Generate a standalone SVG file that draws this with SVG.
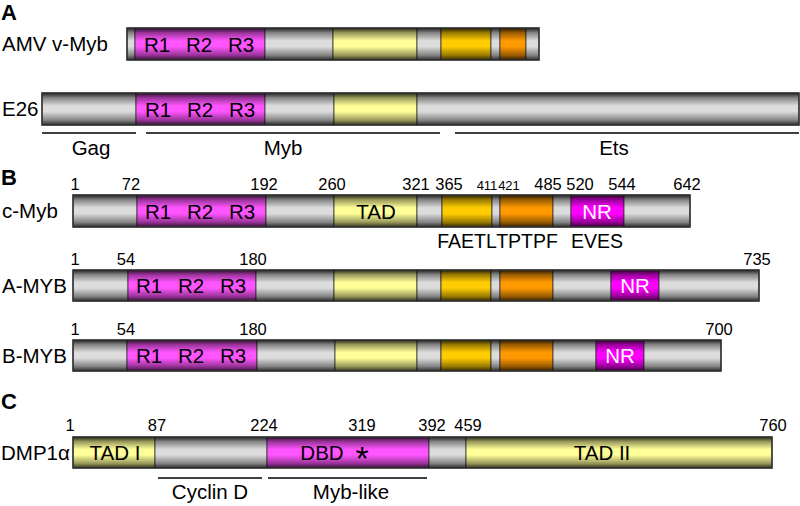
<svg xmlns="http://www.w3.org/2000/svg" width="800" height="506" viewBox="0 0 800 506">
<defs>
<linearGradient id="shade" x1="0" y1="0" x2="0" y2="1">
<stop offset="0" stop-color="#000" stop-opacity="0.85"/>
<stop offset="0.15" stop-color="#000" stop-opacity="0.4"/>
<stop offset="0.4" stop-color="#000" stop-opacity="0"/>
<stop offset="0.58" stop-color="#000" stop-opacity="0"/>
<stop offset="0.85" stop-color="#000" stop-opacity="0.4"/>
<stop offset="1" stop-color="#000" stop-opacity="0.8"/>
</linearGradient>
<style>
text{font-family:"Liberation Sans",Arial,sans-serif;fill:#000}
.sec{font-size:22px;font-weight:bold}
.lbl{font-size:20.5px}
.dom{font-size:20.5px;text-anchor:middle}
.nr{font-size:20.5px;text-anchor:middle;fill:#fff}
.num{font-size:16.5px;text-anchor:middle}
.sn{font-size:13px;text-anchor:middle}
.mot{font-size:19.5px;text-anchor:middle}
.g{fill:#dcdcdc}
.m{fill:#ff55ff}
.n{fill:#ff00ff}
.y{fill:#ffff99}
.au{fill:#ffcc00}
.o{fill:#ff9900}
.seg rect{stroke:#333;stroke-width:0.8}
.sh{fill:url(#shade)}
.out{fill:none;stroke:#333;stroke-width:1.5}
.ln{stroke:#000;stroke-width:1.5;fill:none}
</style>
</defs>
<rect width="800" height="506" fill="#fff"/>

<text class="sec" x="1" y="20">A</text>
<text class="sec" x="1" y="185">B</text>
<text class="sec" x="1" y="409">C</text>

<g id="amv-v-myb">
<text class="lbl" x="2" y="51">AMV v-Myb</text>
<g class="seg">
<rect class="g" x="127" y="28" width="8" height="32"/>
<rect class="m" x="135" y="28" width="130" height="32"/>
<rect class="g" x="265" y="28" width="68" height="32"/>
<rect class="y" x="333" y="28" width="84" height="32"/>
<rect class="g" x="417" y="28" width="24" height="32"/>
<rect class="au" x="441" y="28" width="50" height="32"/>
<rect class="g" x="491" y="28" width="9" height="32"/>
<rect class="o" x="500" y="28" width="26" height="32"/>
<rect class="g" x="526" y="28" width="13" height="32"/>
</g>
<rect class="sh" x="127" y="28" width="412" height="32"/>
<rect class="out" x="127" y="28" width="412" height="32"/>
<text class="dom" x="157" y="52">R1</text>
<text class="dom" x="199" y="52">R2</text>
<text class="dom" x="241" y="52">R3</text>
</g>

<g id="e26">
<text class="lbl" x="2" y="116">E26</text>
<g class="seg">
<rect class="g" x="42" y="93" width="94" height="32"/>
<rect class="m" x="136" y="93" width="129" height="32"/>
<rect class="g" x="265" y="93" width="69" height="32"/>
<rect class="y" x="334" y="93" width="83" height="32"/>
<rect class="g" x="417" y="93" width="382" height="32"/>
</g>
<rect class="sh" x="42" y="93" width="757" height="32"/>
<rect class="out" x="42" y="93" width="757" height="32"/>
<text class="dom" x="158" y="117">R1</text>
<text class="dom" x="200" y="117">R2</text>
<text class="dom" x="242" y="117">R3</text>
</g>

<g id="c-myb">
<text class="lbl" x="2" y="218">c-Myb</text>
<g class="seg">
<rect class="g" x="73" y="195" width="64" height="32"/>
<rect class="m" x="137" y="195" width="129" height="32"/>
<rect class="g" x="266" y="195" width="68" height="32"/>
<rect class="y" x="334" y="195" width="83" height="32"/>
<rect class="g" x="417" y="195" width="25" height="32"/>
<rect class="au" x="442" y="195" width="50" height="32"/>
<rect class="g" x="492" y="195" width="8" height="32"/>
<rect class="o" x="500" y="195" width="53" height="32"/>
<rect class="g" x="553" y="195" width="18" height="32"/>
<rect class="n" x="571" y="195" width="53" height="32"/>
<rect class="g" x="624" y="195" width="66" height="32"/>
</g>
<rect class="sh" x="73" y="195" width="617" height="32"/>
<rect class="out" x="73" y="195" width="617" height="32"/>
<text class="dom" x="158" y="219">R1</text>
<text class="dom" x="200" y="219">R2</text>
<text class="dom" x="242" y="219">R3</text>
<text class="dom" x="376" y="219">TAD</text>
<text class="nr" x="597" y="219">NR</text>
<text class="num" x="75" y="190">1</text>
<text class="num" x="131" y="190">72</text>
<text class="num" x="264" y="190">192</text>
<text class="num" x="332" y="190">260</text>
<text class="num" x="416" y="190">321</text>
<text class="num" x="449" y="190">365</text>
<text class="sn" x="487" y="190">411</text>
<text class="sn" x="509" y="190">421</text>
<text class="num" x="548" y="190">485</text>
<text class="num" x="580" y="190">520</text>
<text class="num" x="622" y="190">544</text>
<text class="num" x="687" y="190">642</text>
<text class="mot" x="467" y="248">FAETL</text>
<text class="mot" x="527" y="248">TPTPF</text>
<text class="mot" x="597" y="248">EVES</text>
</g>

<g id="a-myb">
<text class="lbl" x="2" y="293">A-MYB</text>
<g class="seg">
<rect class="g" x="73" y="270" width="55" height="31"/>
<rect class="m" x="128" y="270" width="128" height="31"/>
<rect class="g" x="256" y="270" width="78" height="31"/>
<rect class="y" x="334" y="270" width="83" height="31"/>
<rect class="g" x="417" y="270" width="24" height="31"/>
<rect class="au" x="441" y="270" width="50" height="31"/>
<rect class="g" x="491" y="270" width="9" height="31"/>
<rect class="o" x="500" y="270" width="53" height="31"/>
<rect class="g" x="553" y="270" width="58" height="31"/>
<rect class="n" x="611" y="270" width="48" height="31"/>
<rect class="g" x="659" y="270" width="100" height="31"/>
</g>
<rect class="sh" x="73" y="270" width="686" height="31"/>
<rect class="out" x="73" y="270" width="686" height="31"/>
<text class="dom" x="149" y="293">R1</text>
<text class="dom" x="191" y="293">R2</text>
<text class="dom" x="233" y="293">R3</text>
<text class="nr" x="635" y="293">NR</text>
<text class="num" x="75" y="265">1</text>
<text class="num" x="126" y="265">54</text>
<text class="num" x="253" y="265">180</text>
<text class="num" x="757" y="265">735</text>
</g>

<g id="b-myb">
<text class="lbl" x="2" y="363">B-MYB</text>
<g class="seg">
<rect class="g" x="73" y="340" width="54" height="31"/>
<rect class="m" x="127" y="340" width="130" height="31"/>
<rect class="g" x="257" y="340" width="78" height="31"/>
<rect class="y" x="335" y="340" width="82" height="31"/>
<rect class="g" x="417" y="340" width="24" height="31"/>
<rect class="au" x="441" y="340" width="50" height="31"/>
<rect class="g" x="491" y="340" width="9" height="31"/>
<rect class="o" x="500" y="340" width="53" height="31"/>
<rect class="g" x="553" y="340" width="43" height="31"/>
<rect class="n" x="596" y="340" width="48" height="31"/>
<rect class="g" x="644" y="340" width="77" height="31"/>
</g>
<rect class="sh" x="73" y="340" width="648" height="31"/>
<rect class="out" x="73" y="340" width="648" height="31"/>
<text class="dom" x="149" y="363">R1</text>
<text class="dom" x="191" y="363">R2</text>
<text class="dom" x="233" y="363">R3</text>
<text class="nr" x="620" y="363">NR</text>
<text class="num" x="75" y="335">1</text>
<text class="num" x="126" y="335">54</text>
<text class="num" x="253" y="335">180</text>
<text class="num" x="719" y="335">700</text>
</g>

<g id="dmp1a">
<text class="lbl" x="1" y="460">DMP1α</text>
<g class="seg">
<rect class="y" x="73" y="437" width="82" height="31"/>
<rect class="g" x="155" y="437" width="112" height="31"/>
<rect class="m" x="267" y="437" width="162" height="31"/>
<rect class="g" x="429" y="437" width="37" height="31"/>
<rect class="y" x="466" y="437" width="306" height="31"/>
</g>
<rect class="sh" x="73" y="437" width="699" height="31"/>
<rect class="out" x="73" y="437" width="699" height="31"/>
<text class="dom" x="115" y="460">TAD I</text>
<text class="dom" x="322" y="460">DBD</text>
<text class="dom" x="362" y="470" style="font-size:34px">*</text>
<text class="dom" x="602" y="460">TAD II</text>
<text class="num" x="70" y="431">1</text>
<text class="num" x="157" y="431">87</text>
<text class="num" x="264" y="431">224</text>
<text class="num" x="362" y="431">319</text>
<text class="num" x="432" y="431">392</text>
<text class="num" x="468" y="431">459</text>
<text class="num" x="773" y="431">760</text>
</g>

<g id="connectors">
<line class="ln" x1="42" y1="133" x2="136" y2="133"/>
<line class="ln" x1="146" y1="133" x2="440" y2="133"/>
<line class="ln" x1="455" y1="133" x2="799" y2="133"/>
<line class="ln" x1="158" y1="478" x2="262" y2="478"/>
<line class="ln" x1="268" y1="478" x2="427" y2="478"/>
<text class="lbl" x="91" y="155" text-anchor="middle">Gag</text>
<text class="lbl" x="283" y="155" text-anchor="middle">Myb</text>
<text class="lbl" x="614" y="155" text-anchor="middle">Ets</text>
<text class="lbl" x="210" y="499" text-anchor="middle">Cyclin D</text>
<text class="lbl" x="351" y="499" text-anchor="middle">Myb-like</text>
</g>
</svg>
